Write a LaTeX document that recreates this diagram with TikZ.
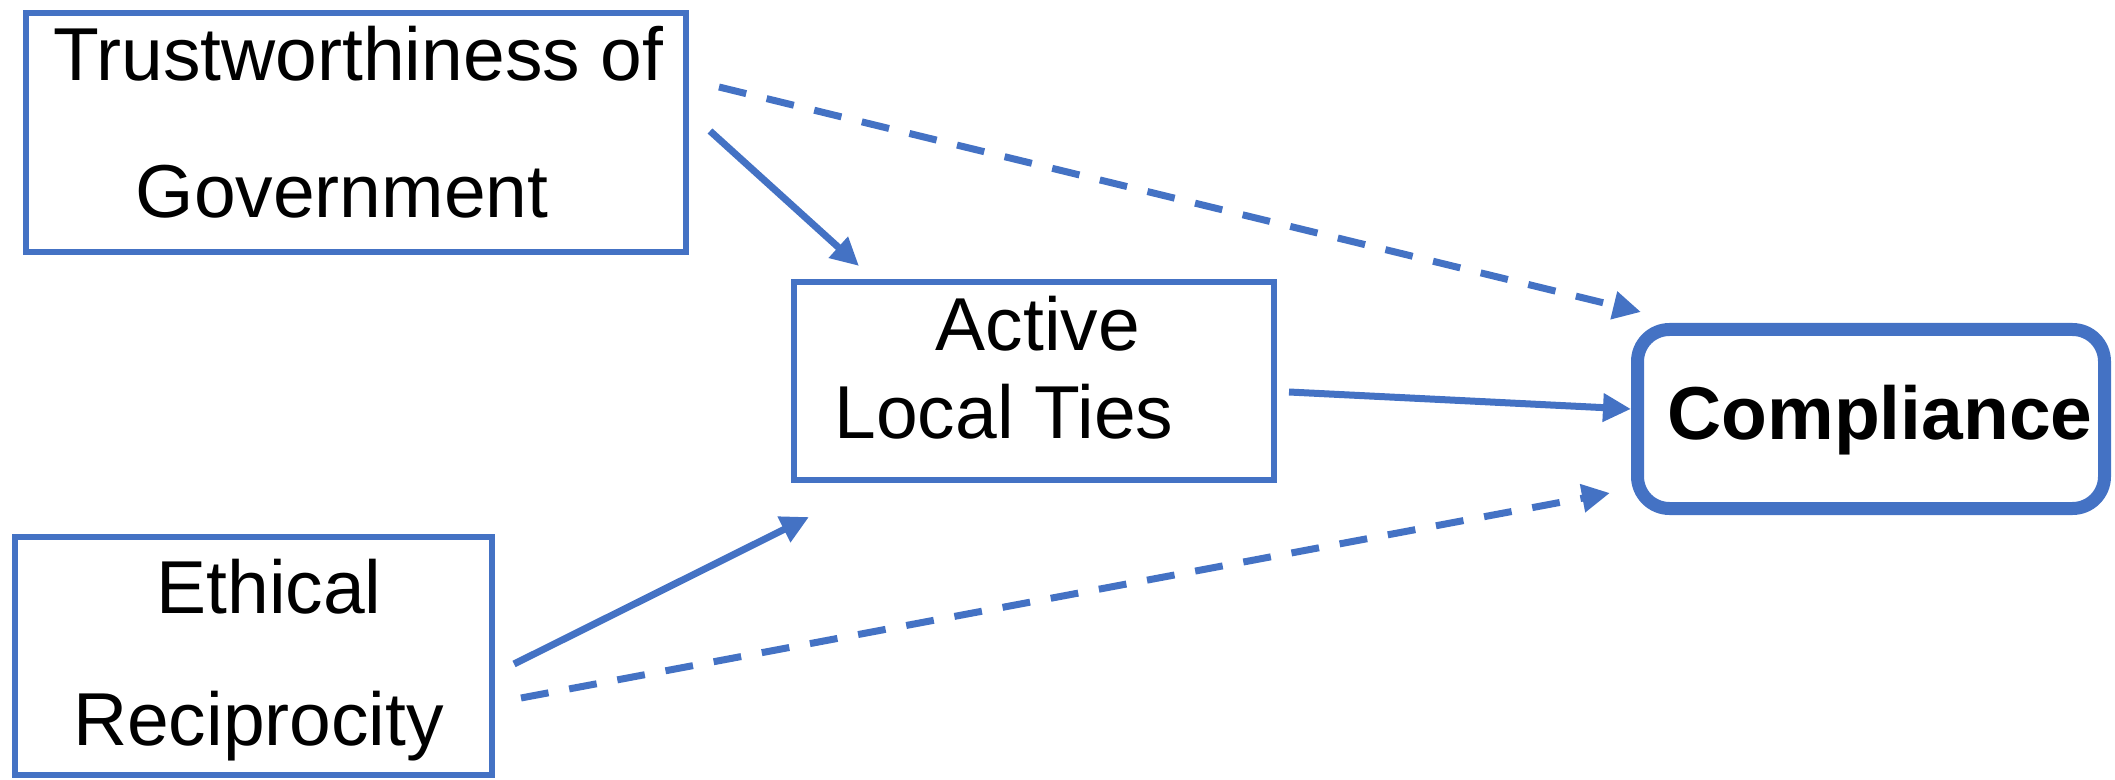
\documentclass[tikz,border=0pt]{standalone}
\usepackage{fontspec}
\setmainfont{Liberation Sans}
\usetikzlibrary{arrows.meta}
\definecolor{boxblue}{HTML}{4472C4}
\tikzset{
  boxthin/.style={draw=boxblue, line width=3pt, rectangle, inner sep=0pt, fill=none},
  boxthick/.style={draw=boxblue, line width=6.5pt, rectangle, rounded corners=16pt, inner sep=0pt},
  lbl/.style={anchor=base, inner sep=0pt, font=\fontsize{37.5}{45}\selectfont},
  conn/.style={draw=boxblue, line width=3.5pt, -{Triangle[length=14pt,width=13.5pt]}},
  dashconn/.style={conn, dash pattern=on 14pt off 10.5pt}
}
\begin{document}
\begin{tikzpicture}[x=0.5pt,y=-0.5pt]
\useasboundingbox (0,0) rectangle (2115,780);
% boxes
\node[boxthin, minimum width=330pt, minimum height=119.5pt] (trust) at (356,132.5) {};
\node[boxthin, minimum width=240pt, minimum height=99pt] (active) at (1034,381) {};
\node[boxthick, minimum width=233.5pt, minimum height=89.5pt] (comp) at (1871,419) {};
\node[boxthin, minimum width=238.5pt, minimum height=119pt] (ethic) at (253.5,656) {};
% labels
\node[lbl] (t1) at (358.5,81) {Trustworthiness of};
\node[lbl] (t2) at (342,218) {Government};
\node[lbl] (a1) at (1038,351) {Active};
\node[lbl] (a2) at (1004,438) {Local Ties};
\node[lbl, font=\fontsize{37.5}{45}\selectfont\bfseries] (c1) at (1880,440) {Compliance};
\node[lbl] (e1) at (269,613) {Ethical};
\node[lbl] (e2) at (258.5,745) {Reciprocity};
% connector ends
\coordinate (ta0) at (710,131);
\coordinate (ta1) at (859,266);
\coordinate (tc0) at (719,87);
\coordinate (tc1) at (1641,312);
\coordinate (ac0) at (1289,392);
\coordinate (ac1) at (1631,409);
\coordinate (ea0) at (514,664);
\coordinate (ea1) at (809,517);
\coordinate (ec0) at (521,698);
\coordinate (ec1) at (1610,493);
% connectors
\draw[conn] (ta0) -- (ta1);
\draw[dashconn] (tc0) -- (tc1);
\draw[conn] (ac0) -- (ac1);
\draw[conn] (ea0) -- (ea1);
\draw[dashconn] (ec0) -- (ec1);
\end{tikzpicture}
\end{document}
